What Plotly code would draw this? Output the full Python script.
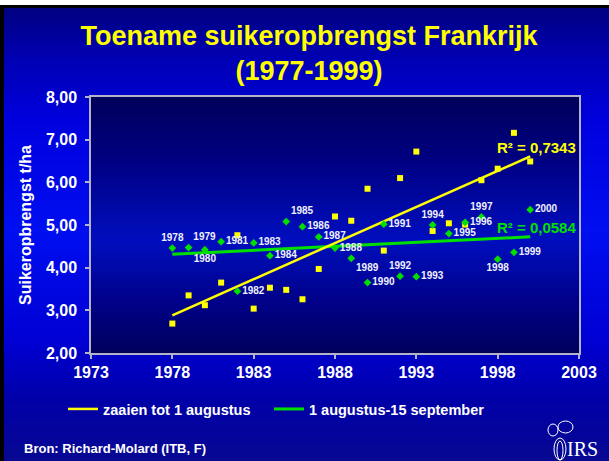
import numpy as np
import plotly.graph_objects as go

# ---------------- data ----------------
years = list(range(1978, 2001))
sowing_before_aug1 = [2.69, 3.35, 3.12, 3.65, 4.76, 3.04, 3.53, 3.48, 3.26, 3.97, 5.20, 5.10,
                      5.85, 4.40, 6.10, 6.72, 4.86, 5.04, 5.01, 6.05, 6.32, 7.16, 6.49]
aug1_to_sep15 = [4.46, 4.47, 4.42, 4.61, 3.45, 4.58, 4.28, 5.08, 4.96, 4.72, 4.46, 4.22,
                 3.65, 5.02, 3.80, 3.79, 5.00, 4.80, 5.06, 5.19, 4.20, 4.36, 5.36]
year_labels = [str(y) for y in years]
series_names = ["zaaien tot 1 augustus", "1 augustus-15 september"]
r2_labels = ["R² = 0,7343", "R² = 0,0584"]
x_ticks = list(range(1973, 2004, 5))
title_text = "Toename suikeropbrengst Frankrijk<br>(1977-1999)"
y_title = "Suikeropbrengst t/ha"
source_text = "Bron: Richard-Molard (ITB, F)"
logo_text = "IRS"

# ---------------- style ----------------
W, H = 609, 461
ML, MR, MT, MB = 91, 30, 97, 108
PW, PH = W - ML - MR, H - MT - MB
FONT = "Liberation Sans, Arial, sans-serif"
YELLOW = "#ffff00"
GREEN = "#00e000"
label_pos = ["top center", "top right", "bottom center", "middle right", "middle right",
             "middle right", "middle right", "top right", "middle right", "middle right",
             "middle right", "bottom right", "middle right", "middle right", "top center",
             "middle right", "top center", "middle right", "middle right", "top center",
             "bottom center", "middle right", "middle right"]


def pxx(px):
    return (px - ML) / PW


def pxy(py):
    return (H - MB - py) / PH


def interp(stops, y):
    if y <= stops[0][0]:
        return stops[0][1]
    for (y0, c0), (y1, c1) in zip(stops, stops[1:]):
        if y0 <= y <= y1:
            t = (y - y0) / (y1 - y0)
            return tuple(int(round(a + (b - a) * t)) for a, b in zip(c0, c1))
    return stops[-1][1]


def stripes(x0, x1, y0, y1, stops, step=3):
    out = []
    y = y0
    while y < y1:
        yb = min(y + step, y1)
        c = interp(stops, (y + yb) / 2)
        out.append(dict(type="rect", xref="paper", yref="paper",
                        x0=pxx(x0), x1=pxx(x1),
                        y0=pxy(min(yb + 0.6, y1)), y1=pxy(y),
                        fillcolor="rgb(%d,%d,%d)" % c, line_width=0, layer="below"))
        y = yb
    return out


bg_stops = [(8, (0, 0, 128)), (60, (0, 0, 180)), (120, (0, 0, 222)), (230, (0, 14, 240)),
            (340, (0, 0, 212)), (400, (0, 0, 168)), (461, (8, 8, 146))]
plot_stops = [(97, (0, 0, 90)), (160, (0, 0, 130)), (240, (0, 14, 190)),
              (305, (0, 0, 134)), (353, (0, 0, 92))]

shapes = [dict(type="rect", xref="paper", yref="paper", x0=pxx(0), x1=pxx(W),
               y0=pxy(5), y1=pxy(0), fillcolor="white", line_width=0, layer="below")]
shapes += stripes(4, W, 8, H, bg_stops)
shapes += stripes(ML, W - MR, MT, H - MB, plot_stops)

# small IRS logo outline (decoration)
logo_shapes = [
    dict(type="circle", x0=pxx(554), x1=pxx(566), y0=pxy(460), y1=pxy(438)),
    dict(type="circle", x0=pxx(557), x1=pxx(563), y0=pxy(460), y1=pxy(441)),
    dict(type="circle", x0=pxx(548), x1=pxx(558), y0=pxy(436), y1=pxy(424)),
    dict(type="circle", x0=pxx(558), x1=pxx(573), y0=pxy(433), y1=pxy(421)),
]
for s in logo_shapes:
    s.update(xref="paper", yref="paper", line=dict(color="white", width=1),
             fillcolor="rgba(0,0,0,0)", layer="above")
shapes += logo_shapes

# ---------------- regression lines ----------------
xa = np.array(years, dtype=float)
fit1 = np.polyval(np.polyfit(xa, np.array(sowing_before_aug1), 1), [years[0], years[-1]])
fit2 = np.polyval(np.polyfit(xa, np.array(aug1_to_sep15), 1), [years[0], years[-1]])

fig = go.Figure()
fig.add_trace(go.Scatter(x=years, y=sowing_before_aug1, mode="markers",
                         marker=dict(symbol="square", size=6, color=YELLOW),
                         showlegend=False, hoverinfo="skip"))
fig.add_trace(go.Scatter(x=[years[0], years[-1]], y=fit2, mode="lines",
                         line=dict(color=GREEN, width=3), name=series_names[1],
                         legend="legend2"))
fig.add_trace(go.Scatter(x=[years[0], years[-1]], y=fit1, mode="lines",
                         line=dict(color=YELLOW, width=2.5), name=series_names[0],
                         legend="legend"))
fig.add_trace(go.Scatter(x=years, y=aug1_to_sep15, mode="markers+text",
                         marker=dict(symbol="diamond", size=6, color=GREEN),
                         text=year_labels, textposition=label_pos,
                         textfont=dict(family=FONT, size=10, color="#f0f0ff", weight="bold"),
                         showlegend=False, hoverinfo="skip"))

annotations = [
    dict(x=years[-1], y=fit1[-1], xref="x", yref="y", text=r2_labels[0], showarrow=False,
         xanchor="center", yanchor="middle", xshift=6, yshift=9,
         font=dict(family=FONT, size=15, color=YELLOW, weight="bold")),
    dict(x=years[-1], y=fit2[-1], xref="x", yref="y", text=r2_labels[1], showarrow=False,
         xanchor="center", yanchor="middle", xshift=6, yshift=9,
         font=dict(family=FONT, size=15, color=GREEN, weight="bold")),
    dict(x=pxx(22), y=pxy(448), xref="paper", yref="paper", text=source_text,
         showarrow=False, xanchor="left", yanchor="middle",
         font=dict(family=FONT, size=13, color="white", weight="bold")),
    dict(x=pxx(566), y=pxy(461), xref="paper", yref="paper", text=logo_text,
         showarrow=False, xanchor="left", yanchor="bottom", borderpad=0,
         font=dict(family="Liberation Serif, Times New Roman, serif", size=20, color="white")),
]

axis_common = dict(showgrid=False, zeroline=False, showline=True, mirror=True,
                   linecolor="#b4b4c8", linewidth=1.5, ticks="outside", ticklen=4,
                   tickcolor="#b4b4c8", tickwidth=1.5, automargin=False,
                   tickfont=dict(family=FONT, size=16, color="white", weight="bold"))

legend_common = dict(orientation="h", xanchor="left", y=pxy(409), yanchor="middle",
                     bgcolor="rgba(0,0,0,0)", borderwidth=0,
                     font=dict(family=FONT, size=14.5, color="white", weight="bold"))

fig.update_layout(
    width=W, height=H,
    margin=dict(l=ML, r=MR, t=MT, b=MB, pad=0),
    paper_bgcolor="black", plot_bgcolor="rgba(0,0,0,0)",
    separators=",.",
    font=dict(family=FONT, color="white"),
    title=dict(text=title_text, x=309 / W, xanchor="center", y=1 - 45 / H, yanchor="top",
               font=dict(family=FONT, size=27, color=YELLOW, weight="bold")),
    xaxis=dict(range=[1973, 2003], tickvals=x_ticks, **axis_common),
    yaxis=dict(range=[2, 8], dtick=1, tickformat=".2f", ticklabelstandoff=5,
               title=dict(text=y_title, standoff=10,
                          font=dict(family=FONT, size=16, color="white", weight="bold")),
               **axis_common),
    legend=dict(x=pxx(63), **legend_common),
    legend2=dict(x=pxx(269), **legend_common),
    shapes=shapes,
    annotations=annotations,
)

fig.write_html("out.html", config=dict(displayModeBar=False),
               post_script="document.body.style.margin='0px';document.body.style.overflow='hidden';")
